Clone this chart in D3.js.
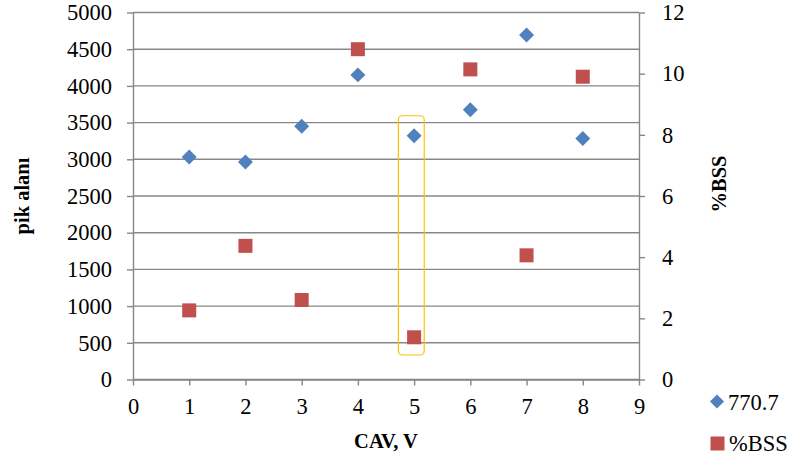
<!DOCTYPE html>
<html>
<head>
<meta charset="utf-8">
<script src="https://cdn.jsdelivr.net/npm/d3@7"></script>
<style>
  html, body { margin: 0; padding: 0; background: #fff; }
</style>
</head>
<body>
<svg id="chart" width="795" height="463"></svg>
<script>
// ---- data ----
const cav = [1, 2, 3, 4, 5, 6, 7, 8];
const peakArea = [3030, 2962, 3450, 4150, 3320, 3675, 4693, 3283];   // series "770.7" (left axis)
const bss = [2.26, 4.37, 2.60, 10.8, 1.38, 10.14, 4.06, 9.90];       // series "%BSS" (right axis)
const xTicks = [0, 1, 2, 3, 4, 5, 6, 7, 8, 9];
const yLeftTicks = [0, 500, 1000, 1500, 2000, 2500, 3000, 3500, 4000, 4500, 5000];
const yRightTicks = [0, 2, 4, 6, 8, 10, 12];
const seriesNames = ["770.7", "%BSS"];
const highlight = { x0: 4.72, x1: 5.18, y0: 334, y1: 3593 }; // in x / left-axis units

const FONT = "Liberation Serif";
const TICK_FS = "22.5px";
const blue = "#4F81BD", red = "#C0504D", grid = "#878787";
const svg = d3.select("#chart");
const L = 133, R = 639, T = 12.5, B = 379.5;

const x = d3.scaleLinear().domain([0, 9]).range([L, R]);
const yL = d3.scaleLinear().domain([0, 5000]).range([B, T]);
const yR = d3.scaleLinear().domain([0, 12]).range([B, T]);

// gridlines
svg.append("g").selectAll("line").data(yLeftTicks).join("line")
  .attr("x1", L).attr("x2", R)
  .attr("y1", d => yL(d)).attr("y2", d => yL(d))
  .attr("stroke", grid).attr("stroke-width", 1.4);

function styleAxis(g) {
  g.attr("font-family", null).attr("font-size", null);
  g.selectAll(".domain").attr("stroke", grid).attr("stroke-width", 1.4);
  g.selectAll(".tick line").attr("stroke", grid).attr("stroke-width", 1.4);
  g.selectAll("text").style("font-family", FONT).style("font-size", TICK_FS).attr("fill", "#000");
}

svg.append("g").attr("transform", `translate(${L},0)`)
  .call(d3.axisLeft(yL).tickValues(yLeftTicks).tickFormat(d3.format("d")).tickSize(6).tickSizeOuter(0).tickPadding(15))
  .call(styleAxis);

svg.append("g").attr("transform", `translate(${R},0)`)
  .call(d3.axisRight(yR).tickValues(yRightTicks).tickFormat(d3.format("d")).tickSize(6).tickSizeOuter(0).tickPadding(17))
  .call(styleAxis);

svg.append("g").attr("transform", `translate(0,${B})`)
  .call(d3.axisBottom(x).tickValues(xTicks).tickFormat(d3.format("d")).tickSize(6).tickSizeOuter(0).tickPadding(13))
  .call(styleAxis);

// series markers
const diamond = d3.symbol().type(d3.symbolSquare).size(112);
svg.append("g").selectAll("path").data(cav).join("path")
  .attr("d", diamond)
  .attr("transform", (d, i) => `translate(${x(d)},${yL(peakArea[i])}) rotate(45)`)
  .attr("fill", blue);

svg.append("g").selectAll("rect").data(cav).join("rect")
  .attr("x", d => x(d) - 7)
  .attr("y", (d, i) => yR(bss[i]) - 7)
  .attr("width", 14).attr("height", 14)
  .attr("fill", red);

// highlight box
svg.append("rect")
  .attr("x", x(highlight.x0)).attr("y", yL(highlight.y1))
  .attr("width", x(highlight.x1) - x(highlight.x0))
  .attr("height", yL(highlight.y0) - yL(highlight.y1))
  .attr("rx", 4).attr("ry", 4)
  .attr("fill", "none").attr("stroke", "#FFC000").attr("stroke-width", 1.2);

// axis titles
function title(sel) {
  return sel.attr("text-anchor", "middle").style("font-family", FONT)
    .style("font-size", "20.5px").style("font-weight", "bold").attr("fill", "#000");
}
svg.append("text")
  .attr("transform", `translate(29,${(T + B) / 2}) rotate(-90)`)
  .call(title).text("pik alanı");

svg.append("text")
  .attr("transform", `translate(726,184) rotate(-90)`)
  .call(title).text("%BSS");

svg.append("text")
  .attr("x", (L + R) / 2).attr("y", 448)
  .call(title).text("CAV, V");

// legend
const lg = svg.append("g");
lg.append("path").attr("d", d3.symbol().type(d3.symbolSquare).size(100))
  .attr("transform", "translate(717,401.5) rotate(45)").attr("fill", blue);
lg.append("text").attr("x", 728).attr("y", 409.5)
  .style("font-family", FONT).style("font-size", TICK_FS).text(seriesNames[0]);
lg.append("rect").attr("x", 710.5).attr("y", 436.5).attr("width", 14).attr("height", 14).attr("fill", red);
lg.append("text").attr("x", 729).attr("y", 450.5)
  .style("font-family", FONT).style("font-size", TICK_FS).text(seriesNames[1]);
</script>
</body>
</html>
